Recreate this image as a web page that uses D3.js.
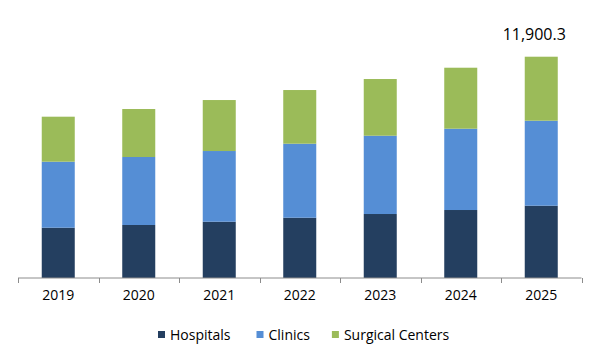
<!DOCTYPE html>
<html><head><meta charset="utf-8">
<script src="https://cdn.jsdelivr.net/npm/d3@7"></script>
<style>body{margin:0;background:#fff}svg{display:block}text{font-family:"Open Sans","Liberation Sans",sans-serif}</style>
</head><body><svg id="c" width="600" height="360"></svg>
<script>
const years = ["2019","2020","2021","2022","2023","2024","2025"];
const hospitals = [2705, 2850, 3027, 3242, 3441, 3656, 3888];
const clinics = [3549, 3656, 3801, 3979, 4210, 4372, 4570];
const surgical = [2420, 2581, 2742, 2887, 3049, 3280, 3442];
const seriesNames = ["Hospitals","Clinics","Surgical Centers"];
const colors = ["#243F60","#558ED5","#9BBB59"];
const lastLabel = "11,900.3";

const svg = d3.select("#c");
const x = d3.scaleBand().domain(years).range([18, 581.5]).paddingInner(0.59).paddingOuter(0.295);
const y = d3.scaleLinear().domain([0, 11900.3]).range([278, 56.7]);

const rows = years.map((yr,i)=>({year:yr, Hospitals:hospitals[i], Clinics:clinics[i], "Surgical Centers":surgical[i]}));
const stack = d3.stack().keys(seriesNames)(rows);

svg.append("g").selectAll("g").data(stack).join("g")
  .attr("fill",(d,i)=>colors[i])
  .selectAll("rect").data(d=>d).join("rect")
  .attr("x",d=>x(d.data.year)).attr("width",x.bandwidth())
  .attr("y",d=>y(d[1])).attr("height",d=>y(d[0])-y(d[1]));

// axis
const ax = svg.append("g").attr("transform","translate(0,278)");
ax.append("line").attr("x1",18).attr("x2",581.5).attr("stroke","#8c8c8c").attr("stroke-width",1);
const tickX = d3.range(years.length+1).map(i=>18 + i*(581.5-18)/years.length);
ax.selectAll("line.t").data(tickX).join("line").attr("class","t")
  .attr("x1",d=>Math.round(d)+0.5).attr("x2",d=>Math.round(d)+0.5).attr("y1",0).attr("y2",5)
  .attr("stroke","#8c8c8c");
ax.selectAll("text").data(years).join("text")
  .attr("x",d=>x(d)+x.bandwidth()/2).attr("y",22)
  .attr("text-anchor","middle").attr("font-size",14).attr("fill","#000").text(d=>d);

// total label
const last = years.length-1;
svg.append("text").attr("x",x(years[last])+x.bandwidth()/2).attr("dx",-7)
  .attr("y",y(hospitals[last]+clinics[last]+surgical[last])-17)
  .attr("text-anchor","middle").attr("font-size",16).attr("fill","#000").text(lastLabel);

// legend
const lg = svg.append("g");
let cx = 158;
const gaps = [26, 22];
seriesNames.forEach((n,i)=>{
  lg.append("rect").attr("x",cx).attr("y",331).attr("width",7).attr("height",7).attr("fill",colors[i]);
  const t = lg.append("text").attr("x",cx+12).attr("y",340).attr("font-size",14).attr("fill","#000").text(n);
  const w = t.node().getComputedTextLength();
  cx = cx + 12 + w + (gaps[i]||0);
});
</script></body></html>
